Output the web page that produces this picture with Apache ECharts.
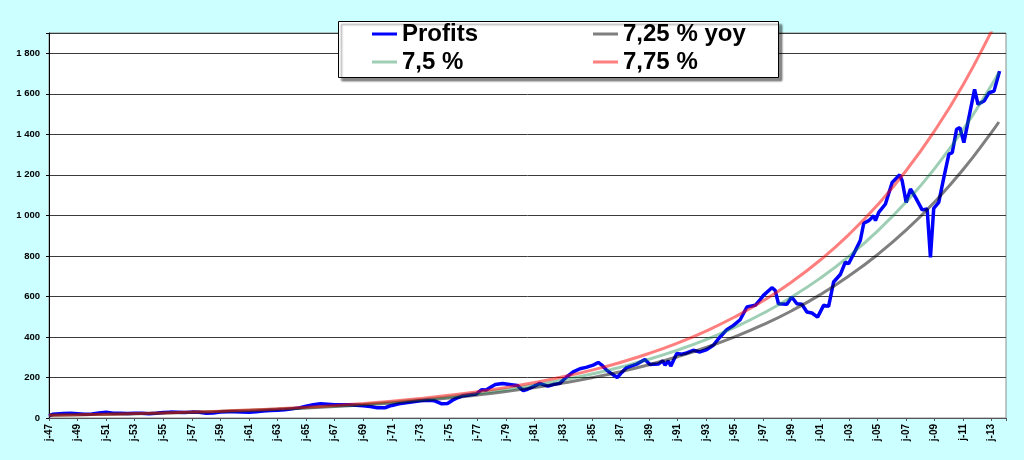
<!DOCTYPE html>
<html>
<head>
<meta charset="utf-8">
<script src="https://cdn.jsdelivr.net/npm/echarts@6/dist/echarts.min.js"></script>
<style>
html,body{margin:0;padding:0;background:#CCFFFF;}
#c{width:1024px;height:460px;}
</style>
</head>
<body>
<div id="c"></div>
<script>
// ---- data ----
const profitYears = [1947.0,1947.25,1947.5,1948.0,1948.5,1949.0,1949.5,1950.0,1950.5,1951.0,1951.5,1952.0,1952.5,1953.0,1953.5,1954.0,1954.5,1955.0,1955.5,1956.0,1956.5,1957.0,1957.5,1958.0,1958.5,1959.0,1959.5,1960.0,1960.5,1961.0,1961.5,1962.0,1962.5,1963.0,1963.5,1964.0,1964.5,1965.0,1965.5,1966.0,1966.5,1967.0,1967.5,1968.0,1968.5,1969.0,1969.5,1970.0,1970.5,1970.8,1971.0,1971.5,1972.0,1972.5,1973.0,1973.5,1974.0,1974.5,1974.9,1975.25,1975.5,1976.0,1976.5,1976.9,1977.3,1977.6,1978.0,1978.25,1978.75,1979.0,1979.5,1979.8,1980.2,1980.5,1980.9,1981.36,1981.6,1981.94,1982.3,1982.76,1983.2,1983.7,1984.17,1984.6,1985.1,1985.45,1985.75,1986.04,1986.4,1986.78,1987.1,1987.44,1988.14,1988.72,1989.07,1989.66,1989.97,1990.13,1990.36,1990.53,1990.95,1991.3,1991.65,1992.1,1992.58,1993.05,1993.51,1993.98,1994.45,1994.92,1995.39,1995.86,1996.44,1996.79,1997.02,1997.61,1997.84,1998.07,1998.66,1999.0,1999.36,1999.71,2000.06,2000.41,2000.81,2001.23,2001.58,2001.93,2002.4,2002.75,2002.98,2003.45,2003.8,2004.04,2004.39,2004.74,2004.86,2005.09,2005.56,2006.03,2006.56,2006.73,2007.01,2007.31,2007.66,2008.13,2008.48,2008.71,2008.94,2009.29,2009.65,2010.0,2010.24,2010.54,2010.77,2011.05,2011.4,2011.8,2012.04,2012.46,2012.81,2013.16,2013.55];
const profitValues = [11,18,20,22,23,21,19,20,25,28,24,23,22,24,23,21,23,27,29,28,27,29,28,24,25,30,31,31,29,28,31,35,37,38,41,45,50,58,66,70,68,66,66,65,63,61,57,50,50,58,62,70,75,80,85,88,85,70,72,88,97,110,115,118,140,138,155,165,170,168,163,160,135,142,155,171,165,157,165,171,200,228,243,250,261,274,258,236,218,200,225,249,266,289,264,266,282,261,282,256,318,315,321,334,326,338,359,400,436,457,485,548,556,584,605,643,630,564,561,597,564,561,523,518,498,556,551,671,708,769,761,826,876,961,974,998,974,1015,1056,1162,1200,1171,1064,1130,1089,1027,1031,793,1035,1064,1187,1302,1310,1425,1433,1359,1482,1622,1548,1564,1605,1613,1712];

const trendYears = [1947,1949,1951,1953,1955,1957,1959,1961,1963,1965,1967,1969,1971,1973,1975,1977,1979,1981,1983,1985,1987,1989,1991,1993,1995,1997,1999,2001,2003,2005,2007,2009,2011,2013,2013.5];
const trend725 = [13.9,16.0,18.4,21.2,24.3,28.0,32.2,37.0,42.6,49.0,56.4,64.8,74.6,85.8,98.7,113.5,130.6,150.2,172.8,198.7,228.6,262.9,302.4,347.9,400.2,460.3,529.5,609.0,700.6,805.8,926.9,1066,1226,1411,1461];
const trend75 = [13.9,16.1,18.6,21.5,24.8,28.7,33.1,38.3,44.2,51.1,59.1,68.2,78.9,91.1,105.3,121.7,140.6,162.5,187.8,217.0,250.8,289.9,335.0,387.1,447.3,517.0,597.4,690.4,797.9,922.0,1065.5,1231,1423,1644,1705];
const trend775 = [13.85,16.1,18.7,21.7,25.2,29.2,33.9,39.4,45.7,53.1,61.6,71.6,83.1,96.5,112.0,130.0,150.9,175.2,203.4,236.2,274.2,318.4,369.7,429.2,498.3,578.5,671.6,779.8,905.3,1051,1220,1417,1645,1910,1982];

const seriesNames = ['Profits','7,25 % yoy','7,5 %','7,75 %'];
const yTicks = [0,200,400,600,800,1000,1200,1400,1600,1800];
const startYear = 1947;

// ---- build ----
const FONT = 'Arial, "Liberation Sans", sans-serif';
const pairs = (xs, ys) => xs.map((x, i) => [x - startYear, ys[i]]);

const chart = echarts.init(document.getElementById('c'), null, {renderer: 'canvas'});
chart.setOption({
  animation: false,
  backgroundColor: '#CCFFFF',
  grid: {left: 49, right: 18, top: 33, bottom: 42, show: true,
         backgroundColor: '#FFFFFF', borderColor: '#8C8C8C', borderWidth: 1},
  graphic: [{
    type: 'rect', z: 10, left: 338, top: 21,
    shape: {width: 440, height: 56},
    style: {fill: '#FFFFFF', stroke: '#000000', lineWidth: 1,
            shadowBlur: 2, shadowOffsetX: 3, shadowOffsetY: 3, shadowColor: 'rgba(0,0,0,0.45)'}
  }],
  legend: [
    {data: [seriesNames[0], seriesNames[2]], orient: 'vertical', left: 367, top: 17, z: 12,
     icon: 'rect', itemWidth: 25, itemHeight: 3, itemGap: 4, selectedMode: false,
     textStyle: {fontFamily: FONT, fontWeight: 'bold', fontSize: 24, lineHeight: 24, color: '#000'}},
    {data: [seriesNames[1], seriesNames[3]], orient: 'vertical', left: 588, top: 17, z: 12,
     icon: 'rect', itemWidth: 25, itemHeight: 3, itemGap: 4, selectedMode: false,
     textStyle: {fontFamily: FONT, fontWeight: 'bold', fontSize: 24, lineHeight: 24, color: '#000'}}
  ],
  xAxis: {
    type: 'value', min: 0, max: 67, interval: 2,
    axisLine: {show: true, lineStyle: {color: '#555', width: 1}},
    axisTick: {show: true, length: 3, lineStyle: {color: '#555'}},
    splitLine: {show: false},
    axisLabel: {rotate: 90, margin: 6, fontFamily: FONT, fontWeight: 'bold', fontSize: 10, color: '#000',
      formatter: v => (v % 2 !== 0) ? '' : 'j-' + String((startYear + v) % 100).padStart(2, '0')}
  },
  yAxis: {
    type: 'value', min: 0, max: 1900, interval: 200,
    axisLine: {show: true, lineStyle: {color: '#000', width: 1}},
    axisTick: {show: true, length: 3, lineStyle: {color: '#000'}},
    splitLine: {show: true, lineStyle: {color: '#3a3a3a', width: 1}},
    axisLabel: {margin: 9, fontFamily: FONT, fontWeight: 'bold', fontSize: 9.5, color: '#000',
      formatter: v => yTicks.indexOf(v) < 0 ? '' : String(v).replace(/\B(?=(\d{3})+(?!\d))/g, ' ')}
  },
  series: [
    {name: seriesNames[0], type: 'line', data: pairs(profitYears, profitValues), symbol: 'none',
     lineStyle: {color: '#0000FF', width: 3.5}, itemStyle: {color: '#0000FF'}, z: 2},
    {name: seriesNames[1], type: 'line', data: pairs(trendYears, trend725), symbol: 'none', smooth: true,
     lineStyle: {color: 'rgba(0,0,0,0.5)', width: 3}, itemStyle: {color: 'rgba(0,0,0,0.5)'}, z: 3},
    {name: seriesNames[2], type: 'line', data: pairs(trendYears, trend75), symbol: 'none', smooth: true,
     lineStyle: {color: 'rgba(0,130,60,0.38)', width: 3}, itemStyle: {color: 'rgba(0,130,60,0.38)'}, z: 3},
    {name: seriesNames[3], type: 'line', data: pairs(trendYears, trend775), symbol: 'none', smooth: true,
     lineStyle: {color: 'rgba(255,0,0,0.5)', width: 3}, itemStyle: {color: 'rgba(255,0,0,0.5)'}, z: 3}
  ]
});
</script>
</body>
</html>
